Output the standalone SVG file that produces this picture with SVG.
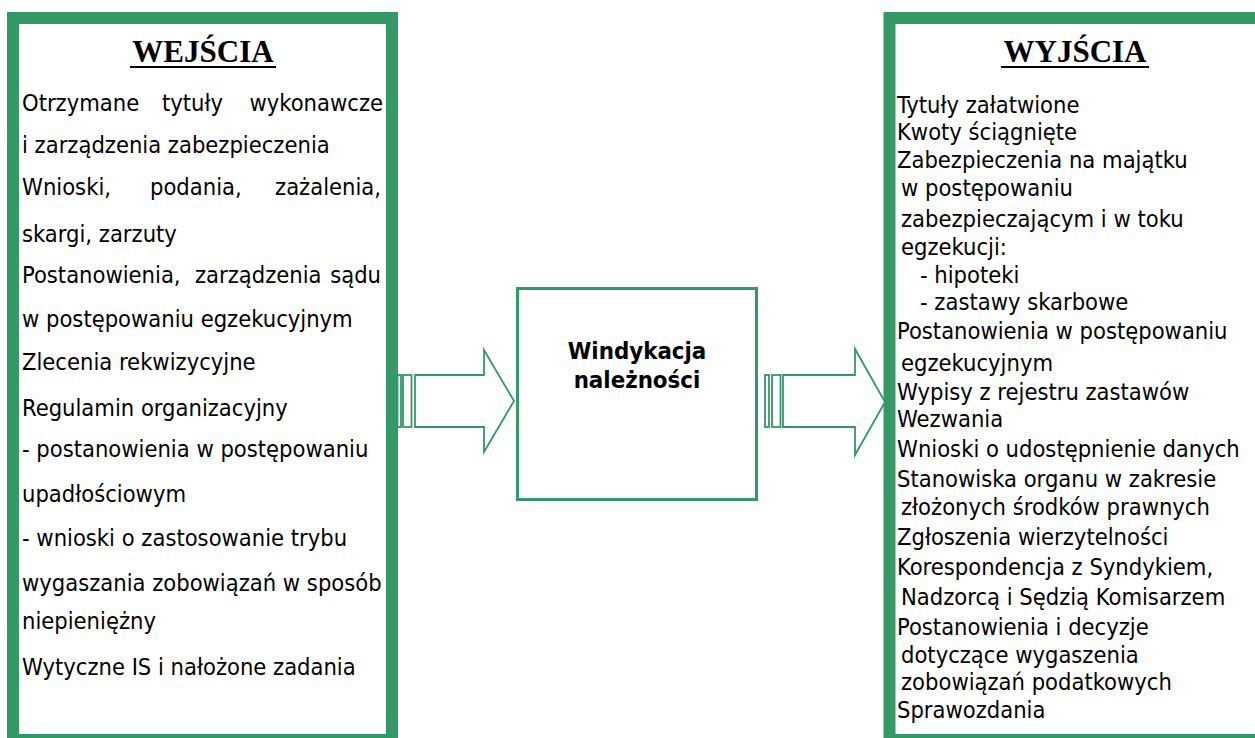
<svg xmlns="http://www.w3.org/2000/svg" width="1255" height="738" viewBox="0 0 1255 738">
<style>
.box{fill:#fff;stroke:#339966;stroke-width:12}
.thin{fill:#fff;stroke:#339966;stroke-width:3}
.arr{fill:#fff;stroke:#339966;stroke-width:1.8;stroke-linejoin:miter}
.title{font-family:"Liberation Serif","Times New Roman",serif;font-weight:bold;font-size:31px;fill:#000;text-anchor:middle}
.t{font-family:"DejaVu Sans Condensed","DejaVu Sans",sans-serif;font-stretch:condensed;font-size:23.5px;fill:#000}
.c{font-family:"DejaVu Sans Condensed","DejaVu Sans",sans-serif;font-stretch:condensed;font-size:23.8px;font-weight:bold;fill:#000;text-anchor:middle}
.ul{stroke:#000;stroke-width:2.2}
</style>
<rect width="1255" height="738" fill="#fff"/>

<g id="wejscia">
<rect class="box" x="13" y="18" width="379" height="722"/>
<text class="title" x="203" y="62">WEJŚCIA</text>
<line class="ul" x1="130" y1="67" x2="276" y2="67"/>
<text class="t" x="22" y="111">Otrzymane</text>
<text class="t" x="162" y="111">tytuły</text>
<text class="t" x="383" y="111" text-anchor="end">wykonawcze</text>
<text class="t" x="22" y="153">i zarządzenia zabezpieczenia</text>
<text class="t" x="22" y="195">Wnioski,</text>
<text class="t" x="150" y="195">podania,</text>
<text class="t" x="381" y="195" text-anchor="end">zażalenia,</text>
<text class="t" x="22" y="242">skargi, zarzuty</text>
<text class="t" x="22" y="283">Postanowienia,</text>
<text class="t" x="195" y="283">zarządzenia</text>
<text class="t" x="381" y="283" text-anchor="end">sądu</text>
<text class="t" x="22" y="327">w postępowaniu egzekucyjnym</text>
<text class="t" x="22" y="370">Zlecenia rekwizycyjne</text>
<text class="t" x="22" y="416">Regulamin organizacyjny</text>
<text class="t" x="22" y="457">- postanowienia w postępowaniu</text>
<text class="t" x="22" y="502">upadłościowym</text>
<text class="t" x="22" y="546">- wnioski o zastosowanie trybu</text>
<text class="t" x="22" y="591">wygaszania zobowiązań w sposób</text>
<text class="t" x="22" y="629">niepieniężny</text>
<text class="t" x="22" y="675">Wytyczne IS i nałożone zadania</text>
</g>

<g id="windykacja">
<rect class="thin" x="517.5" y="288.5" width="239" height="211"/>
<text class="c" x="637" y="359">Windykacja</text>
<text class="c" x="637" y="388">należności</text>
</g>

<g id="wyjscia">
<rect class="box" x="889.5" y="18" width="380" height="722"/>
<text class="title" x="1075" y="62">WYJŚCIA</text>
<line class="ul" x1="1001" y1="67" x2="1149" y2="67"/>
<text class="t" x="897" y="113">Tytuły załatwione</text>
<text class="t" x="897" y="140">Kwoty ściągnięte</text>
<text class="t" x="897" y="168">Zabezpieczenia na majątku</text>
<text class="t" x="901" y="196">w postępowaniu</text>
<text class="t" x="901" y="227">zabezpieczającym i w toku</text>
<text class="t" x="901" y="255">egzekucji:</text>
<text class="t" x="920" y="283">- hipoteki</text>
<text class="t" x="920" y="310">- zastawy skarbowe</text>
<text class="t" x="897" y="339">Postanowienia w postępowaniu</text>
<text class="t" x="901" y="371">egzekucyjnym</text>
<text class="t" x="897" y="400">Wypisy z rejestru zastawów</text>
<text class="t" x="897" y="427">Wezwania</text>
<text class="t" x="897" y="457">Wnioski o udostępnienie danych</text>
<text class="t" x="897" y="487">Stanowiska organu w zakresie</text>
<text class="t" x="901" y="515">złożonych środków prawnych</text>
<text class="t" x="897" y="545">Zgłoszenia wierzytelności</text>
<text class="t" x="897" y="575">Korespondencja z Syndykiem,</text>
<text class="t" x="901" y="605">Nadzorcą i Sędzią Komisarzem</text>
<text class="t" x="897" y="635">Postanowienia i decyzje</text>
<text class="t" x="901" y="663">dotyczące wygaszenia</text>
<text class="t" x="901" y="690">zobowiązań podatkowych</text>
<text class="t" x="897" y="718">Sprawozdania</text>
</g>

<g id="connectors">
<rect class="arr" x="397.5" y="375" width="3.5" height="52"/>
<rect class="arr" x="403" y="375" width="8.5" height="52"/>
<path class="arr" d="M415,375 H484 V350 L514,401 L484,452 V427 H415 Z"/>
<rect class="arr" x="765" y="375" width="4" height="52"/>
<rect class="arr" x="772" y="375" width="8.5" height="52"/>
<path class="arr" d="M783,375 H855 V349 L885,402 L855,455 V427 H783 Z"/>
</g>
</svg>
